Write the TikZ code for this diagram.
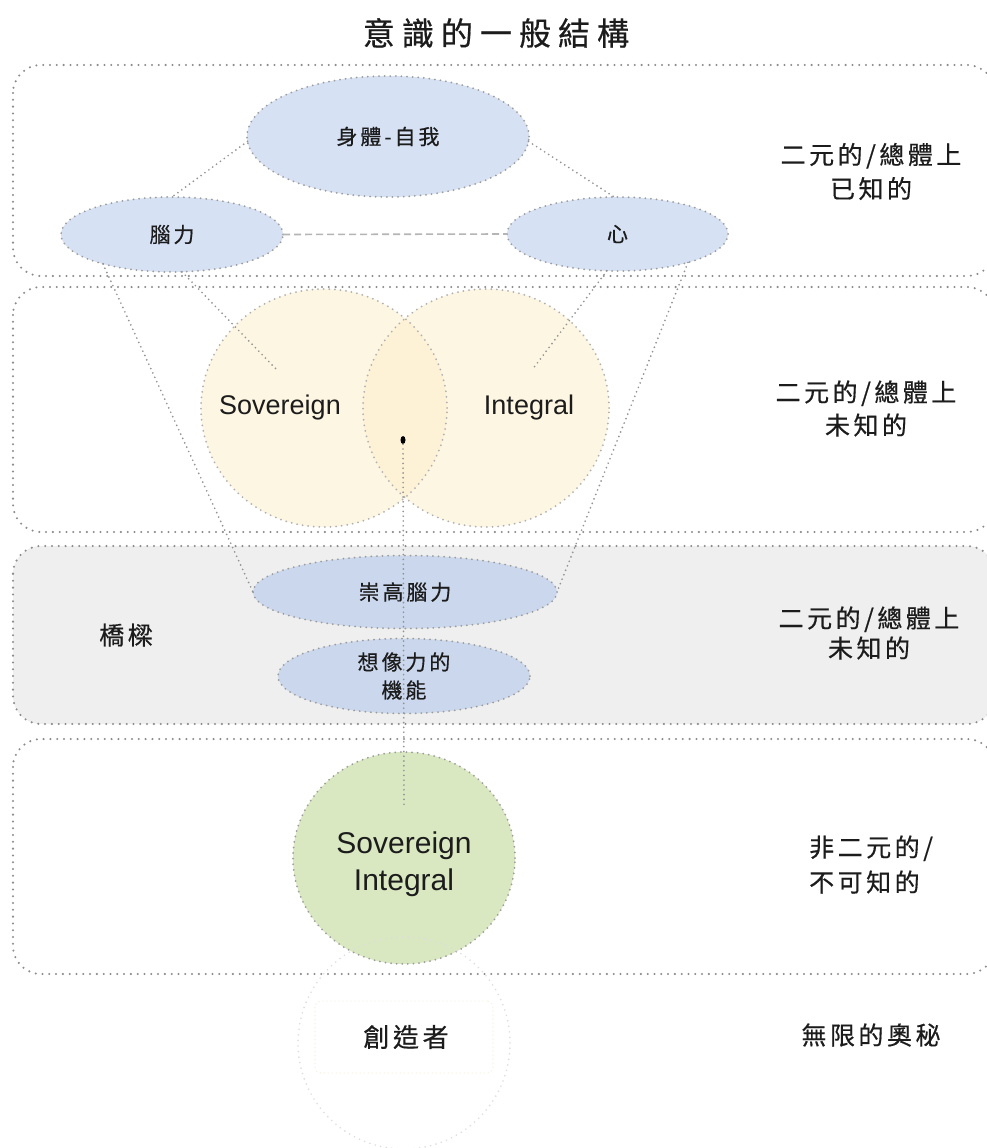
\documentclass[tikz,border=0pt]{standalone}
\usepackage{fontspec}
\usetikzlibrary{shapes.geometric}
\newfontfamily\cjk{Noto Sans CJK TC}
\newfontfamily\cjkA[LetterSpace=14,FakeBold=0.5]{Noto Sans CJK TC}
\newfontfamily\cjkT[LetterSpace=22,FakeBold=0.6]{Noto Sans CJK TC}
\newfontfamily\arialf{Liberation Sans}
\definecolor{bandline}{HTML}{8C8C8C}
\definecolor{ellline}{HTML}{9C9C9C}
\definecolor{connline}{HTML}{939393}
\definecolor{bridgefill}{HTML}{EFEFEF}
\definecolor{blueA}{HTML}{D6E1F4}
\definecolor{blueB}{HTML}{CAD7EC}
\definecolor{yellowA}{HTML}{FDEFCC}
\definecolor{greenA}{HTML}{D9E8C1}
\definecolor{faint}{HTML}{DDDDDD}
\definecolor{faintY}{HTML}{F2F2DE}
\definecolor{txt}{HTML}{1C1C1C}
\tikzset{
  band/.style={draw=bandline, line width=2.3pt, dash pattern=on 0pt off 6.8pt, line cap=round, rounded corners=28pt},
  ellborder/.style={draw=ellline, line width=2pt, dash pattern=on 0pt off 5.6pt, line cap=round},
  blueell/.style={ellipse, fill=blueA, ellborder, inner sep=0pt, outer sep=0pt, text=txt, font=\cjkA\fontsize{21}{26}\selectfont},
  blueellB/.style={ellipse, fill=blueB, ellborder, inner sep=0pt, outer sep=0pt, text=txt, align=center, font=\cjkA\fontsize{21}{28}\selectfont},
  conn/.style={draw=connline, line width=1.9pt, dash pattern=on 0pt off 4.8pt, line cap=round},
  dashconn/.style={draw=ellline!75, line width=1.6pt, dash pattern=on 7pt off 4pt},
  label/.style={text=txt, align=center, inner sep=0pt, font=\cjkA\fontsize{25}{34}\selectfont},
  latin/.style={text=txt, inner sep=0pt, align=center, font=\arialf\fontsize{27}{37}\selectfont}
}
\begin{document}
\begin{tikzpicture}[x=1pt,y=-1pt]
\useasboundingbox (0,0) rectangle (987,1148);
\fill[white] (0,0) rectangle (987,1148);

% title
\node[text=txt, inner sep=0pt, font=\cjkT\fontsize{32}{36}\selectfont] (title) at (496,33) {意識的一般結構};

% bands
\draw[band] (13,65) rectangle (995,276);
\draw[band] (13,287) rectangle (995,532);
\draw[band, fill=bridgefill] (13,546) rectangle (995,724);
\draw[band] (13,739) rectangle (995,974);

% yellow circles (fills first, borders after)
\node[ellipse, fill=yellowA, fill opacity=0.55, minimum width=246, minimum height=238, inner sep=0pt] (sov) at (324,408) {};
\node[ellipse, fill=yellowA, fill opacity=0.55, minimum width=246, minimum height=238, inner sep=0pt] (int) at (486,408) {};
\node[ellipse, ellborder, draw=ellline!80, minimum width=246, minimum height=238, inner sep=0pt] (sovB) at (324,408) {};
\node[ellipse, ellborder, draw=ellline!80, minimum width=246, minimum height=238, inner sep=0pt] (intB) at (486,408) {};

% green circle
\node[ellipse, fill=greenA, ellborder, minimum width=222, minimum height=212, inner sep=0pt] (si) at (404,858) {};

% creator (faint)
\node[circle, draw=faint, line width=1.8pt, dash pattern=on 0pt off 5.6pt, line cap=round, minimum size=212, inner sep=0pt] (cr) at (404,1043) {};
\node[rectangle, draw=faintY, line width=1.4pt, dash pattern=on 0pt off 4pt, line cap=round, rounded corners=6pt, minimum width=178, minimum height=72, inner sep=0pt] (crbox) at (404,1037) {};

% blue ellipses
\node[blueell, minimum width=282, minimum height=121] (body) at (388,136.5) {身體-自我};
\node[blueell, minimum width=222, minimum height=75] (brain) at (172,234.5) {腦力};
\node[blueell, minimum width=221, minimum height=74] (heart) at (617.5,234) {心};
\node[blueellB, minimum width=304, minimum height=73] (sub) at (405,592) {崇高腦力};
\node[blueellB, minimum width=252, minimum height=75] (imag) at (404,676) {想像力的\\機能};

% connectors
\coordinate (inL) at (277,370);
\coordinate (inR) at (532,370);
\coordinate (vend) at (404,808);
\draw[conn] (body.182) -- (brain.north);
\draw[conn] (body.358) -- (heart.95);
\draw[dashconn] (brain.east) -- (heart.west);
\draw[conn] (brain.203) -- (sub.west);
\draw[conn] (brain.285) -- (inL);
\draw[conn] (heart.254) -- (inR);
\draw[conn] (heart.338) -- (sub.east);

% central dot and vertical line
\node[ellipse, fill=black, minimum width=5, minimum height=8, inner sep=0pt] (dot) at (403,440) {};
\draw[conn] (dot) -- (vend);

% latin labels
\node[latin] (tsov) at (280,408) {Sovereign};
\node[latin] (tint) at (529,408) {Integral};
\node[latin, font=\arialf\fontsize{30}{37}\selectfont] (tsi) at (404,864) {Sovereign\\Integral};

% CJK labels
\node[label, font=\cjkA\fontsize{26}{34}\selectfont] (tcr) at (406,1037) {創造者};
\node[label] (l1) at (871,171.5) {二元的/總體上\\已知的};
\node[label, font=\cjkA\fontsize{25}{33}\selectfont] (l2) at (866,408.5) {二元的/總體上\\未知的};
\node[label, font=\cjkA\fontsize{25}{30}\selectfont] (l3) at (869,633) {二元的/總體上\\未知的};
\node[label, align=left, anchor=west, font=\cjkA\fontsize{25}{35}\selectfont] (l4) at (809,864.5) {非二元的/\\不可知的};
\node[label] (l5) at (871,1035) {無限的奧秘};
\node[label] (bridge) at (126,635) {橋樑};
\end{tikzpicture}
\end{document}
